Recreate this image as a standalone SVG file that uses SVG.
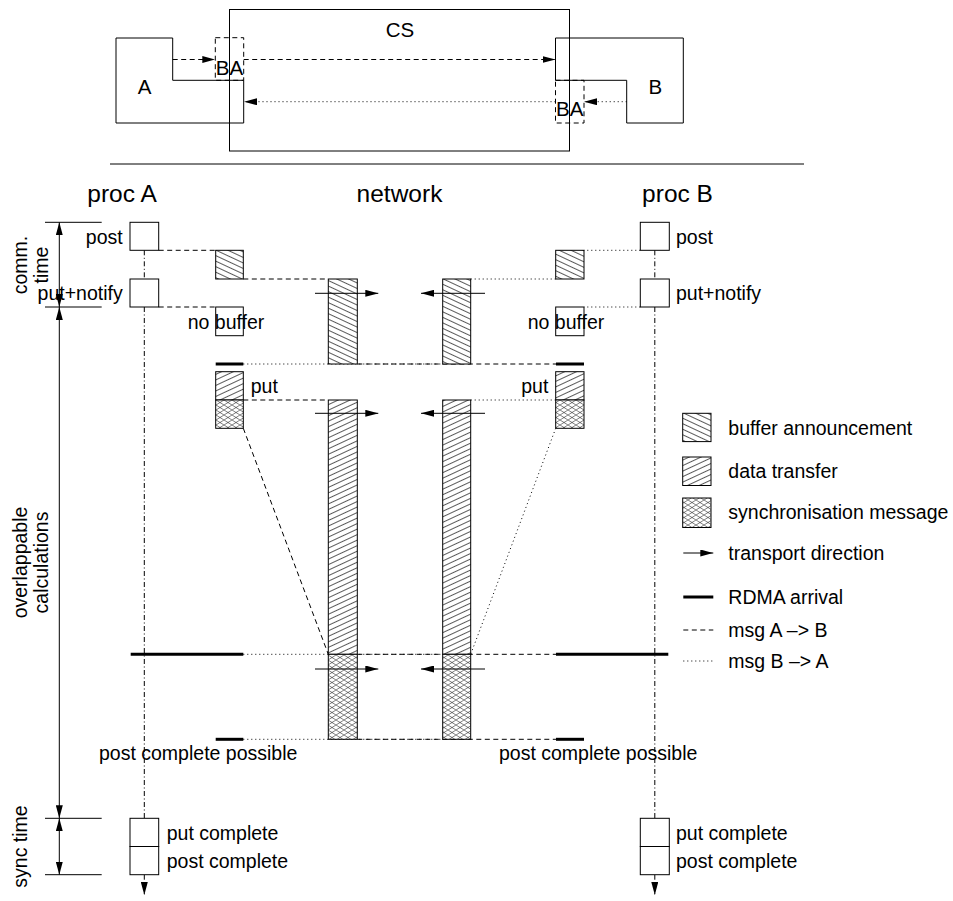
<svg xmlns="http://www.w3.org/2000/svg" width="953" height="901" viewBox="0 0 953 901">
<style>
text{font-family:"Liberation Sans",Arial,sans-serif;fill:#000}
.t{font-size:19.5px}
.h{font-size:24.5px}
.tp{font-size:20.5px}
.ln{fill:none;stroke:#000;stroke-width:1}
.box{fill:#fff;stroke:#000;stroke-width:1}
.dash{fill:none;stroke:#000;stroke-width:1;stroke-dasharray:5,3.5}
.dot{fill:none;stroke:#000;stroke-width:1;stroke-dasharray:1,3}
.dd{fill:none;stroke:#000;stroke-width:1;stroke-dasharray:5,2.5,1,2.5}
.thick{fill:none;stroke:#000;stroke-width:3}
.ba{fill:url(#pBA);stroke:#000;stroke-width:1}
.dt{fill:url(#pDT);stroke:#000;stroke-width:1}
.sm{fill:url(#pSM);stroke:#000;stroke-width:1}
.arr{fill:none;stroke:#000;stroke-width:1;marker-end:url(#ah)}
.dim{fill:none;stroke:#000;stroke-width:1;marker-start:url(#ah);marker-end:url(#ah)}
</style>
<defs>
<marker id="ah" markerUnits="userSpaceOnUse" viewBox="0 0 13 7" markerWidth="13" markerHeight="7" refX="13" refY="3.5" orient="auto-start-reverse">
<path d="M0,0 L13,3.5 L0,7 Z" fill="#000" stroke="none"/>
</marker>
<pattern id="pBA" patternUnits="userSpaceOnUse" width="10" height="5" patternTransform="rotate(25)">
<rect width="10" height="5" fill="#fff"/>
<line x1="0" y1="0.5" x2="10" y2="0.5" stroke="#000" stroke-width="0.65"/>
</pattern>
<pattern id="pDT" patternUnits="userSpaceOnUse" width="10" height="5" patternTransform="rotate(-25)">
<rect width="10" height="5" fill="#fff"/>
<line x1="0" y1="0.5" x2="10" y2="0.5" stroke="#000" stroke-width="0.65"/>
</pattern>
<pattern id="pSM" patternUnits="userSpaceOnUse" width="8" height="5">
<rect width="8" height="5" fill="#fff"/>
<path d="M0,0 L8,5 M0,5 L8,0" stroke="#000" stroke-width="0.5" fill="none"/>
</pattern>
</defs>
<rect width="953" height="901" fill="#fff"/>

<!-- top overview -->
<g id="node-CS">
<rect class="ln" x="229.5" y="9.5" width="340" height="141.5"/>
<text class="tp" x="400" y="37.3" text-anchor="middle">CS</text>
</g>
<g id="node-A">
<polygon class="ln" points="116,38 172.7,38 172.7,80.3 243.7,80.3 243.7,123 116,123"/>
<text class="tp" x="144.7" y="94.3" text-anchor="middle">A</text>
</g>
<g id="node-B">
<polygon class="ln" points="555.5,38 683.3,38 683.3,123 626.7,123 626.7,80.3 555.5,80.3"/>
<text class="tp" x="655.3" y="94.3" text-anchor="middle">B</text>
</g>
<g id="node-BA-left">
<rect class="dash" x="215.3" y="37.7" width="28.4" height="42.6"/>
<text class="tp" x="229.5" y="75" text-anchor="middle">BA</text>
</g>
<g id="node-BA-right">
<rect class="dash" x="555.5" y="80.3" width="28.5" height="42.7"/>
<text class="tp" x="569.7" y="116" text-anchor="middle">BA</text>
</g>
<g id="top-connectors">
<line class="dash" x1="172.7" y1="59.5" x2="215.3" y2="59.5" marker-end="url(#ah)"/>
<line class="dash" x1="243.7" y1="59.5" x2="555.5" y2="59.5" marker-end="url(#ah)"/>
<line class="dot" x1="626.7" y1="101.7" x2="584" y2="101.7" marker-end="url(#ah)"/>
<line class="dot" x1="555.5" y1="101.7" x2="244" y2="101.7" marker-end="url(#ah)"/>
</g>

<line class="ln" x1="110" y1="164" x2="804" y2="164"/>

<!-- headers -->
<text class="h" x="122" y="201.5" text-anchor="middle">proc A</text>
<text class="h" x="399.5" y="201.5" text-anchor="middle">network</text>
<text class="h" x="677.5" y="201.5" text-anchor="middle">proc B</text>

<!-- dimension scale -->
<g id="scale">
<line class="ln" x1="45" y1="222.3" x2="101.7" y2="222.3"/>
<line class="ln" x1="45" y1="307" x2="101.7" y2="307"/>
<line class="ln" x1="45" y1="818.3" x2="101.7" y2="818.3"/>
<line class="ln" x1="45" y1="874.7" x2="101.7" y2="874.7"/>
<line class="dim" x1="59.3" y1="222.3" x2="59.3" y2="307"/>
<line class="dim" x1="59.3" y1="307" x2="59.3" y2="818.3"/>
<line class="dim" x1="59.3" y1="818.3" x2="59.3" y2="874.7"/>
<text class="t" transform="translate(27,265) rotate(-90)" text-anchor="middle">comm.</text>
<text class="t" transform="translate(48,265) rotate(-90)" text-anchor="middle">time</text>
<text class="t" transform="translate(27,562.5) rotate(-90)" text-anchor="middle">overlappable</text>
<text class="t" transform="translate(48,562.5) rotate(-90)" text-anchor="middle">calculations</text>
<text class="t" transform="translate(27,846.5) rotate(-90)" text-anchor="middle">sync time</text>
</g>

<!-- connectors -->
<g id="connectors">
<line class="dd" x1="144.3" y1="250.3" x2="144.3" y2="279"/>
<line class="dd" x1="144.3" y1="307" x2="144.3" y2="818.3"/>
<line class="dd" x1="144.3" y1="874.7" x2="144.3" y2="895" marker-end="url(#ah)"/>
<line class="dd" x1="654.8" y1="250.3" x2="654.8" y2="279"/>
<line class="dd" x1="654.8" y1="307" x2="654.8" y2="818.3"/>
<line class="dd" x1="654.8" y1="874.7" x2="654.8" y2="895" marker-end="url(#ah)"/>

<line class="dash" x1="158.7" y1="250.3" x2="215.7" y2="250.3"/>
<line class="dash" x1="243.3" y1="279" x2="328.3" y2="279"/>
<line class="dash" x1="158.7" y1="307" x2="215.7" y2="307"/>
<line class="dot" x1="640.3" y1="250.3" x2="584" y2="250.3"/>
<line class="dot" x1="555.7" y1="279" x2="470.7" y2="279"/>
<line class="dot" x1="640.3" y1="307" x2="584" y2="307"/>

<line class="dot" x1="243.3" y1="364" x2="442.7" y2="364"/>
<line class="dash" x1="357.3" y1="364" x2="556" y2="364"/>
<line class="thick" x1="215.7" y1="364" x2="243.3" y2="364"/>
<line class="thick" x1="556" y1="364" x2="584" y2="364"/>

<line class="dash" x1="243.3" y1="400" x2="328.3" y2="400"/>
<line class="dot" x1="555.7" y1="400" x2="470.7" y2="400"/>
<line class="dash" x1="243.3" y1="428.3" x2="328.3" y2="654.3"/>
<line class="dot" x1="555.7" y1="428.3" x2="470.7" y2="654.3"/>

<line class="dot" x1="243.3" y1="654.3" x2="442.7" y2="654.3"/>
<line class="dash" x1="357.3" y1="654.3" x2="556" y2="654.3"/>
<line class="thick" x1="130.7" y1="654.3" x2="243.3" y2="654.3"/>
<line class="thick" x1="556" y1="654.3" x2="668.3" y2="654.3"/>

<line class="dot" x1="243.3" y1="739.3" x2="442.7" y2="739.3"/>
<line class="dash" x1="357.3" y1="739.3" x2="556" y2="739.3"/>
<line class="thick" x1="215.7" y1="739.3" x2="243.3" y2="739.3"/>
<line class="thick" x1="556" y1="739.3" x2="584" y2="739.3"/>
</g>

<!-- proc A nodes -->
<g id="A-post"><rect class="box" x="130" y="222.3" width="28.7" height="28"/><text class="t" x="122.7" y="243.5" text-anchor="end">post</text></g>
<g id="A-put"><rect class="box" x="130" y="279" width="28.7" height="28"/><text class="t" x="122.7" y="300" text-anchor="end">put+notify</text></g>
<g id="A-putcomplete"><rect class="box" x="130" y="818.3" width="28.7" height="28.2"/><text class="t" x="166.7" y="839.5">put complete</text></g>
<g id="A-postcomplete"><rect class="box" x="130" y="846.5" width="28.7" height="28.2"/><text class="t" x="166.7" y="867.5">post complete</text></g>

<!-- proc B nodes -->
<g id="B-post"><rect class="box" x="640.3" y="222.3" width="29" height="28"/><text class="t" x="676" y="243.5">post</text></g>
<g id="B-put"><rect class="box" x="640.3" y="279" width="29" height="28"/><text class="t" x="676" y="300">put+notify</text></g>
<g id="B-putcomplete"><rect class="box" x="640.3" y="818.3" width="29" height="28.2"/><text class="t" x="676" y="839.5">put complete</text></g>
<g id="B-postcomplete"><rect class="box" x="640.3" y="846.5" width="29" height="28.2"/><text class="t" x="676" y="867.5">post complete</text></g>

<!-- message boxes -->
<g id="A-bufann"><rect class="ba" x="215.7" y="250.3" width="27.6" height="28.7"/></g>
<g id="A-nobuffer"><rect class="box" x="215.7" y="307" width="27.6" height="28.7"/><text class="t" x="187.7" y="329">no buffer</text></g>
<g id="B-bufann"><rect class="ba" x="555.7" y="250.3" width="28.3" height="28.7"/></g>
<g id="B-nobuffer"><rect class="box" x="555.7" y="307" width="28.3" height="28.7"/><text class="t" x="527.7" y="329">no buffer</text></g>
<g id="A-putdata"><rect class="dt" x="215.7" y="371.7" width="27.6" height="28.3"/><rect class="sm" x="215.7" y="400" width="27.6" height="28.3"/><text class="t" x="250.7" y="392.7">put</text></g>
<g id="B-putdata"><rect class="dt" x="555.7" y="371.7" width="28.3" height="28.3"/><rect class="sm" x="555.7" y="400" width="28.3" height="28.3"/><text class="t" x="548.3" y="392.7" text-anchor="end">put</text></g>

<!-- network columns -->
<g id="net-AtoB">
<rect class="ba" x="328.3" y="279" width="29" height="85"/>
<rect class="dt" x="328.3" y="400" width="29" height="254.3"/>
<rect class="sm" x="328.3" y="654.3" width="29" height="85"/>
</g>
<g id="net-BtoA">
<rect class="ba" x="442.7" y="279" width="28" height="85"/>
<rect class="dt" x="442.7" y="400" width="28" height="254.3"/>
<rect class="sm" x="442.7" y="654.3" width="28" height="85"/>
</g>
<g id="transport-arrows">
<line class="arr" x1="315" y1="293.3" x2="378.3" y2="293.3"/>
<line class="arr" x1="485" y1="293.3" x2="421" y2="293.3"/>
<line class="arr" x1="315" y1="413.3" x2="378.3" y2="413.3"/>
<line class="arr" x1="485" y1="413.3" x2="421" y2="413.3"/>
<line class="arr" x1="315" y1="669" x2="378.3" y2="669"/>
<line class="arr" x1="485" y1="669" x2="421" y2="669"/>
</g>

<text class="t" x="99" y="760">post complete possible</text>
<text class="t" x="499" y="760">post complete possible</text>

<!-- legend -->
<g id="legend">
<rect class="ba" x="682.7" y="413.3" width="28.3" height="28.3"/>
<text class="t" x="728.3" y="435">buffer announcement</text>
<rect class="dt" x="682.7" y="457" width="28.3" height="28.5"/>
<text class="t" x="728.3" y="478">data transfer</text>
<rect class="sm" x="682.7" y="498" width="28.3" height="29.5"/>
<text class="t" x="728.3" y="519">synchronisation message</text>
<line class="arr" x1="683.3" y1="553" x2="713.3" y2="553"/>
<text class="t" x="728.3" y="560">transport direction</text>
<line class="thick" x1="683.3" y1="597" x2="713.3" y2="597"/>
<text class="t" x="728.3" y="604">RDMA arrival</text>
<line class="dash" x1="683.3" y1="630" x2="713.3" y2="630"/>
<text class="t" x="728.3" y="637">msg A –&gt; B</text>
<line class="dot" x1="683.3" y1="661" x2="713.3" y2="661"/>
<text class="t" x="728.3" y="668">msg B –&gt; A</text>
</g>
</svg>
